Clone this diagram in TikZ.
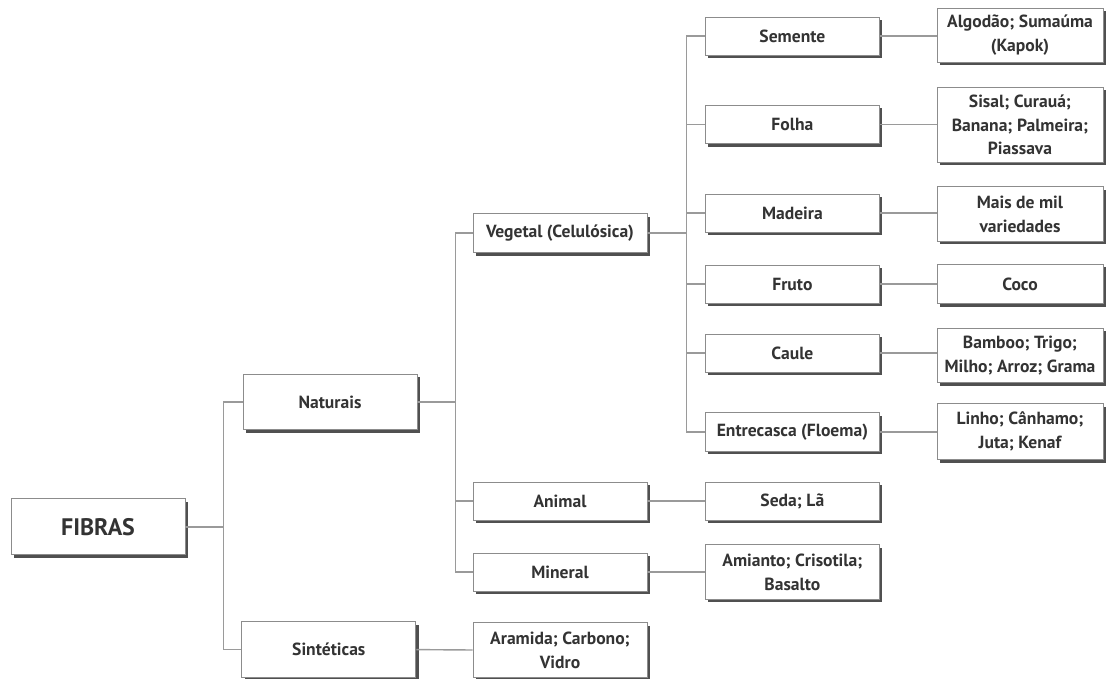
\documentclass[tikz,border=0pt]{standalone}
\usepackage{fontspec}
\setmainfont{PT Sans}
\usetikzlibrary{shadows}
\definecolor{ink}{HTML}{333333}
\definecolor{frame}{HTML}{8C8C8C}
\definecolor{wire}{HTML}{9A9A9A}
\definecolor{shade}{HTML}{505050}

\begin{document}
\begin{tikzpicture}[
  font=\bfseries\fontsize{12.5}{17}\selectfont, text=ink,
  box/.style={draw=frame, line width=.7pt, fill=white, align=center, inner sep=1pt,
    drop shadow={shadow xshift=.075cm, shadow yshift=-.075cm, fill=shade, opacity=1}},
  mid/.style={box, minimum width=4.35cm},
  leaf/.style={box, minimum width=4.15cm},
  link/.style={draw=wire, line width=1pt}
]
\useasboundingbox (0,0) rectangle (27.7,-16.975);

% Root and the two main groups.
\node[box, minimum width=4.35cm, minimum height=1.4cm,
  font=\bfseries\fontsize{17}{20}\selectfont] (fibras) at (2.45,-13.17) {FIBRAS};
\node[box, minimum width=4.35cm, minimum height=1.38cm] (naturais) at (8.25,-10.05) {Naturais};
\node[box, minimum width=4.35cm, minimum height=1.4cm] (sinteticas) at (8.22,-16.24) {Sintéticas};
\draw[link] (fibras.east) -- ++(.95,0) coordinate (rootfork) |- (naturais.west);
\draw[link] (rootfork) |- (sinteticas.west);

% Natural fibres by origin, synthetic fibres directly.
\node[mid, minimum height=.98cm] (vegetal) at (14,-5.83) {Vegetal (Celulósica)};
\node[mid, minimum height=.95cm] (animal) at (14,-12.53) {Animal};
\node[mid, minimum height=.95cm] (mineral) at (14,-14.3) {Mineral};
\node[mid, minimum height=1.36cm] (aramida) at (14,-16.25) {Aramida; Carbono;\\Vidro};
\draw[link] (naturais.east) -- ++(.95,0) coordinate (natfork) |- (vegetal.west);
\draw[link] (natfork) |- (animal.west);
\draw[link] (natfork) |- (mineral.west);
\draw[link] (sinteticas.east) -- (aramida.west);

% Parts of the plant.
\node[mid, minimum height=.95cm] (semente) at (19.81,-.9) {Semente};
\node[mid, minimum height=.97cm] (folha) at (19.81,-3.11) {Folha};
\node[mid, minimum height=.95cm] (madeira) at (19.81,-5.33) {Madeira};
\node[mid, minimum height=.95cm] (fruto) at (19.81,-7.1) {Fruto};
\node[mid, minimum height=.95cm] (caule) at (19.81,-8.83) {Caule};
\node[mid, minimum height=.97cm] (entrecasca) at (19.81,-10.8) {Entrecasca (Floema)};
\node[mid, minimum height=.95cm] (seda) at (19.81,-12.53) {Seda; Lã};
\node[mid, minimum height=1.36cm] (amianto) at (19.81,-14.3) {Amianto; Crisotila;\\Basalto};
\draw[link] (vegetal.east) -- ++(.975,0) coordinate (vegfork) |- (semente.west);
\draw[link] (vegfork) |- (folha.west);
\draw[link] (vegfork) |- (madeira.west);
\draw[link] (vegfork) |- (fruto.west);
\draw[link] (vegfork) |- (caule.west);
\draw[link] (vegfork) |- (entrecasca.west);
\draw[link] (animal.east) -- (seda.west);
\draw[link] (mineral.east) -- (amianto.west);

% Examples of each plant fibre.
\node[leaf, minimum height=1.36cm] (algodao) at (25.5,-.88) {Algodão; Sumaúma\\(Kapok)};
\node[leaf, minimum height=1.88cm] (sisal) at (25.5,-3.12) {Sisal; Curauá;\\Banana; Palmeira;\\Piassava};
\node[leaf, minimum height=1.36cm] (variedades) at (25.5,-5.35) {Mais de mil\\variedades};
\node[leaf, minimum height=.98cm] (coco) at (25.5,-7.1) {Coco};
\node[leaf, minimum height=1.36cm] (bamboo) at (25.5,-8.89) {Bamboo; Trigo;\\Milho; Arroz; Grama};
\node[leaf, minimum height=1.4cm] (linho) at (25.5,-10.79) {Linho; Cânhamo;\\Juta; Kenaf};
\draw[link] (semente.east) -- (semente.east -| algodao.west);
\draw[link] (folha.east) -- (folha.east -| sisal.west);
\draw[link] (madeira.east) -- (madeira.east -| variedades.west);
\draw[link] (fruto.east) -- (fruto.east -| coco.west);
\draw[link] (caule.east) -- (caule.east -| bamboo.west);
\draw[link] (entrecasca.east) -- (entrecasca.east -| linho.west);
\end{tikzpicture}
\end{document}
